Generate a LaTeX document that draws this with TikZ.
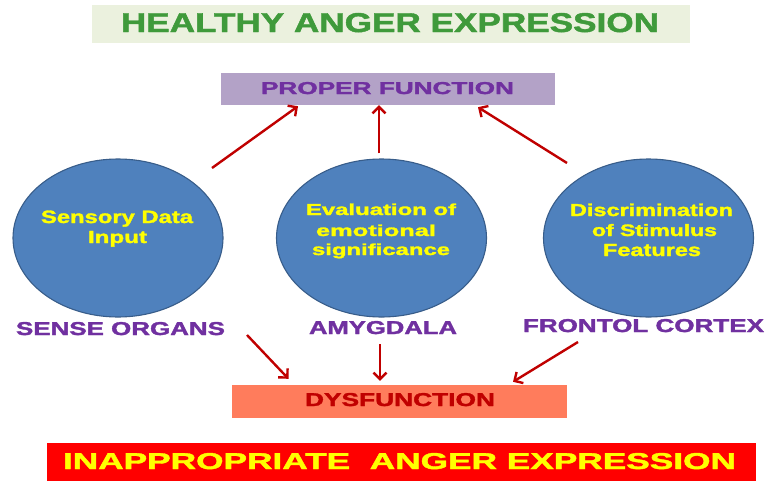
\documentclass[tikz,border=0pt]{standalone}
\usepackage{fontspec}
\setmainfont{Liberation Sans}[BoldFeatures={FakeBold=1.6}]
\usepackage{graphicx}
\usetikzlibrary{shapes.geometric,arrows.meta}
\definecolor{titlebg}{HTML}{EBF1DE}
\definecolor{titlefg}{HTML}{3F9A3B}
\definecolor{properbg}{HTML}{B3A2C7}
\definecolor{purp}{HTML}{7030A0}
\definecolor{ellfill}{HTML}{4F81BD}
\definecolor{elldraw}{HTML}{385D8A}
\definecolor{arrred}{HTML}{C00000}
\definecolor{dysbg}{HTML}{FF7C5C}
\definecolor{yel}{HTML}{FFFF00}
\newcommand{\fitbox}[3]{\resizebox{#1pt}{#2pt}{\bfseries #3}}
\begin{document}
\begin{tikzpicture}[x=1pt,y=-1pt,
  box/.style={rectangle, inner sep=0pt, draw=none},
  txt/.style={inner sep=0pt, anchor=base},
  ell/.style={ellipse, inner sep=0pt, minimum width=210pt, minimum height=158pt,
    fill=ellfill, draw=elldraw, line width=1.1pt},
  arr/.style={draw=arrred, line width=2.4pt, -{Straight Barb[length=6.5pt,width=13pt]}}]
\fill[white] (0,0) rectangle (766,480);
\useasboundingbox (0,0) rectangle (766,480);
% top title
\node[box, fill=titlebg, minimum width=598pt, minimum height=38pt] (title) at (391,24) {};
\node[txt, text=titlefg] (titlet) at (390,32) {\fitbox{538}{19}{HEALTHY ANGER EXPRESSION}};
% proper function
\node[box, fill=properbg, minimum width=334pt, minimum height=32pt] (proper) at (388,89) {};
\node[txt, text=purp] (propert) at (387.5,94) {\fitbox{253}{12}{PROPER FUNCTION}};
% ellipses
\node[ell] (sens) at (118,238) {};
\node[ell] (amyg) at (381.5,238) {};
\node[ell] (front) at (648.5,238) {};
\node[txt, text=yel] (s1) at (117,223) {\fitbox{152}{12.5}{Sensory Data}};
\node[txt, text=yel] (s2) at (117.5,243) {\fitbox{59}{12}{Input}};
\node[txt, text=yel] (m1) at (381,215) {\fitbox{150}{11.5}{Evaluation of}};
\node[txt, text=yel] (m2) at (376,236) {\fitbox{120}{11.5}{emotional}};
\node[txt, text=yel] (m3) at (381,255) {\fitbox{138}{11.5}{significance}};
\node[txt, text=yel] (r1) at (651.5,216) {\fitbox{163}{12.5}{Discrimination}};
\node[txt, text=yel] (r2) at (654.5,236) {\fitbox{125}{12}{of Stimulus}};
\node[txt, text=yel] (r3) at (652,256) {\fitbox{98}{12}{Features}};
% labels
\node[txt, text=purp] (sensl) at (120.5,335) {\fitbox{209}{13}{SENSE ORGANS}};
\node[txt, text=purp] (amygl) at (383,334) {\fitbox{148}{13}{AMYGDALA}};
\node[txt, text=purp] (frontl) at (643.5,332) {\fitbox{241}{13}{FRONTOL CORTEX}};
% dysfunction
\node[box, fill=dysbg, minimum width=335pt, minimum height=33pt] (dys) at (399.5,401.5) {};
\node[txt, text=arrred] (dyst) at (400,406) {\fitbox{190}{13}{DYSFUNCTION}};
% bottom
\node[box, fill=red, minimum width=709pt, minimum height=38pt] (bottom) at (401.5,462) {};
\node[txt, text=yel] (bottomt) at (399.5,469) {\fitbox{673}{16}{INAPPROPRIATE\ \ ANGER EXPRESSION}};
% arrows up
\draw[arr] ([shift={(94,-70)}]sens.center) -- ([shift={(-90,1)}]proper.south);
\draw[arr, shorten <=5pt] ([xshift=-2.5pt]amyg.north) -- ([xshift=-2.5pt]amyg.north |- proper.south);
\draw[arr] ([shift={(-81.5,-75)}]front.center) -- ([shift={(90,2)}]proper.south);
% arrows down
\draw[arr] ([shift={(126.5,0)}]sensl.base) -- ([shift={(-111,-6)}]dys.north);
\draw[arr, shorten <=10pt, shorten >=4pt] ([xshift=-3pt]amygl.base) -- ([xshift=-3pt]amygl.base |- dys.north);
\draw[arr] ([shift={(-65.5,10)}]frontl.base) -- ([shift={(113.5,-3)}]dys.north);
\end{tikzpicture}
\end{document}
